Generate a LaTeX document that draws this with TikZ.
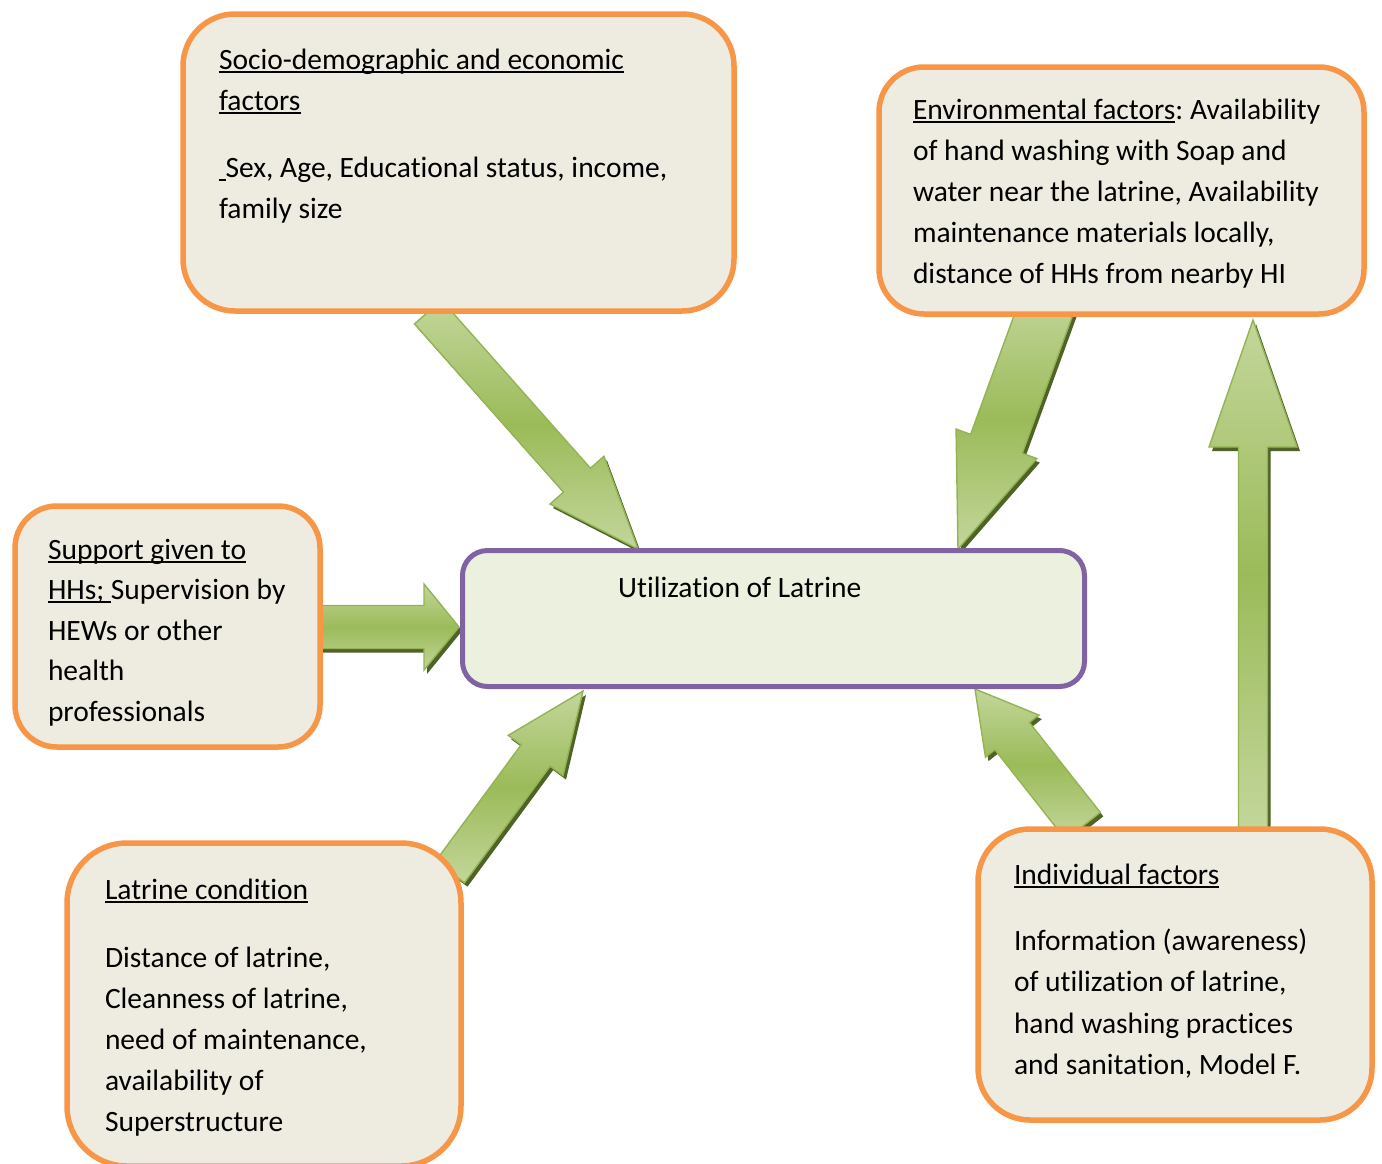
\documentclass[tikz,border=0pt]{standalone}
\usepackage{fontspec}
\setmainfont{Carlito}[Ligatures=NoCommon]
\frenchspacing
\usetikzlibrary{calc}
\definecolor{boxorange}{HTML}{F79646}
\definecolor{boxfill}{HTML}{EEECE1}
\definecolor{centerfill}{HTML}{EBF1DE}
\definecolor{centerline}{HTML}{8064A2}
\definecolor{glight}{HTML}{C3D69B}
\definecolor{gmid}{HTML}{9BBB59}
\definecolor{gline}{HTML}{94B454}
\definecolor{gshadow}{HTML}{4F6228}
\newsavebox\ulbox
\newcommand\ulx[1]{\sbox\ulbox{#1}\rlap{\rule[-3.6pt]{\wd\ulbox}{2pt}}\usebox\ulbox}
\newcommand\bodyfont{\fontsize{29.5}{41}\selectfont}
\newcommand\blockarrow[5]{%
  \coordinate (bh) at ($(#2)!#5!(#1)$);
  \coordinate (bt1) at ($(#1)!#3!90:(#2)$);
  \coordinate (bt2) at ($(#1)!#3!-90:(#2)$);
  \coordinate (bj1) at ($(bh)!#3!90:(#2)$);
  \coordinate (bj2) at ($(bh)!#3!-90:(#2)$);
  \coordinate (bb1) at ($(bh)!#4!90:(#2)$);
  \coordinate (bb2) at ($(bh)!#4!-90:(#2)$);
  \fill[arrowshadow, transform canvas={shift={(3pt,-4pt)}}] (bt1) -- (bj1) -- (bb1) -- (#2) -- (bb2) -- (bj2) -- (bt2) -- cycle;
  \path[arrowbody] (bt1) -- (bj1) -- (bb1) -- (#2) -- (bb2) -- (bj2) -- (bt2) -- cycle;
}
\tikzset{
  arrowbody/.style={draw=gline, line width=1.4pt, line join=miter, top color=glight, bottom color=glight, middle color=gmid},
  arrowshadow/.style={fill=gshadow},
  factorbox/.style={draw=boxorange, line width=5.5pt, fill=boxfill, rounded corners=#1, inner sep=0pt, outer sep=0pt},
  factorbox/.default=50pt,
  centerbox/.style={draw=centerline, line width=5pt, fill=centerfill, rounded corners=25pt, inner sep=0pt, outer sep=0pt},
  boxtext/.style={anchor=north west, inner sep=0pt, outer sep=0pt, align=left, font=\bodyfont},
}
\begin{document}
\begin{tikzpicture}[x=1pt,y=-1pt]
\useasboundingbox (0,0) rectangle (1382,1163);
\fill[white] (0,0) rectangle (1382,1163);

% arrow end points
\coordinate (a1s) at (428,312);
\coordinate (a1e) at (638,549);
\coordinate (a2s) at (1049,300);
\coordinate (a2e) at (958,549);
\coordinate (a3s) at (1253,828);
\coordinate (a3e) at (1253,320);
\coordinate (a4s) at (1083,826);
\coordinate (a4e) at (975,689);
\coordinate (a5s) at (318,627);
\coordinate (a5e) at (459,627);
\coordinate (a6s) at (450,872);
\coordinate (a6e) at (583,691);

% block arrows (behind the boxes)
\blockarrow{a1s}{a1e}{18pt}{36pt}{92pt}
\blockarrow{a2s}{a2e}{27.5pt}{43pt}{112pt}
\blockarrow{a3s}{a3e}{14.5pt}{44pt}{127pt}
\blockarrow{a4s}{a4e}{22pt}{34pt}{60pt}
\blockarrow{a5s}{a5e}{21.5pt}{43pt}{35pt}
\blockarrow{a6s}{a6e}{18pt}{34pt}{80pt}

% boxes
\node[factorbox=52pt, minimum width=551pt, minimum height=297pt] (socio) at (458.5,162.5) {};
\node[factorbox=45pt, minimum width=485pt, minimum height=247pt] (env) at (1121.5,190.5) {};
\node[factorbox=42pt, minimum width=305pt, minimum height=241pt] (support) at (167.5,626.5) {};
\node[factorbox=60pt, minimum width=394pt, minimum height=323pt] (latrine) at (264,1004.5) {};
\node[factorbox=52pt, minimum width=394pt, minimum height=291pt] (indiv) at (1175,974.5) {};
\node[centerbox, minimum width=622pt, minimum height=136pt] (util) at (773.5,618.5) {};

% texts
\node[boxtext] (sociotext) at (219,40.3) {\strut\ulx{Socio-demographic and economic}\\ \ulx{factors}\\[26pt] \ulx{\ }Sex, Age, Educational status, income,\\ family size};
\node[boxtext] (envtext) at (913,90.8) {\strut\ulx{Environmental factors}: Availability\\ of hand washing with Soap and\\ water near the latrine, Availability\\ maintenance materials locally,\\ distance of HHs from nearby HI};
\begin{scope}
\clip (0,0) rectangle (1382,725);
\node[boxtext, font=\fontsize{29.5}{40.5}\selectfont] (supporttext) at (48,530.8) {\strut\ulx{Support given to}\\ \ulx{HHs;\ }Supervision by\\ HEWs or other\\ health\\ professionals};
\end{scope}
\node[boxtext] (latrinetext) at (105,870.8) {\strut\ulx{Latrine condition}\\[26.7pt] Distance of latrine,\\ Cleanness of latrine,\\ need of maintenance,\\ availability of\\ Superstructure};
\node[boxtext, font=\fontsize{29.5}{41.5}\selectfont] (indivtext) at (1014,855.3) {\strut\ulx{Individual factors}\\[24.5pt] Information (awareness)\\ of utilization of latrine,\\ hand washing practices\\ and sanitation, Model F.};
\node[anchor=base west, inner sep=0pt, font=\bodyfont] (utiltext) at (618,597.5) {Utilization of Latrine};
\end{tikzpicture}
\end{document}
